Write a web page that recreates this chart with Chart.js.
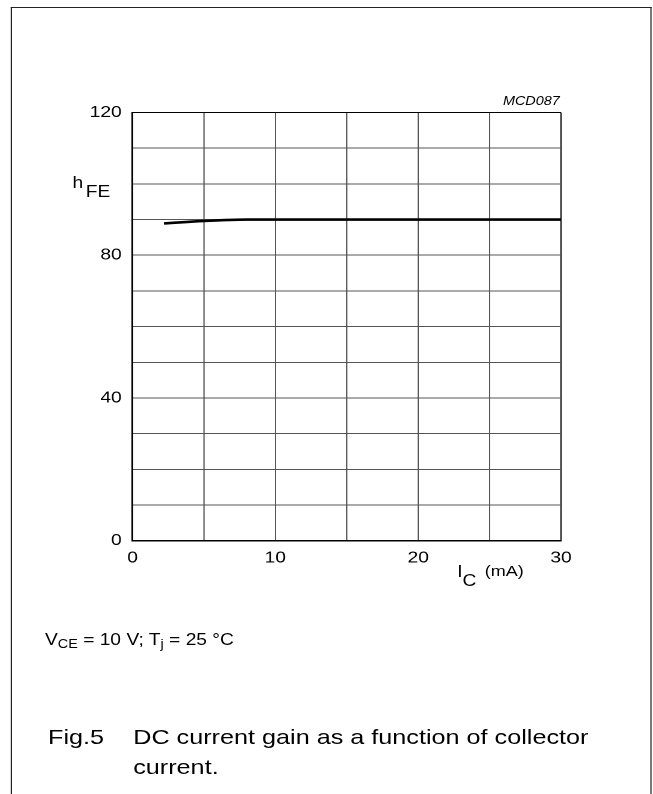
<!DOCTYPE html>
<html>
<head>
<meta charset="utf-8">
<script src="https://cdn.jsdelivr.net/npm/chart.js@4.4.1/dist/chart.umd.min.js"></script>
<style>
  html, body { margin: 0; padding: 0; background: #fff; }
  body { width: 653px; height: 794px; overflow: hidden; }
  #wrap { position: absolute; left: 0; top: 0; width: 544px; height: 794px;
          transform: scaleX(1.2); transform-origin: 0 0;
          font-family: "Liberation Sans", Arial, Helvetica, sans-serif; color: #000; }
  #frame { position: absolute; left: 9px; top: 7px; width: 532px; height: 800px;
           border-left: 1.5px solid #222; border-top: 1.5px solid #222; border-right: 1.5px solid #222; }
  canvas { position: absolute; left: 0; top: 0; }
  .t { position: absolute; white-space: nowrap; line-height: 1; }
  sub { font-size: 12px; vertical-align: -3px; line-height: 1; }
</style>
</head>
<body>
<div id="wrap">
  <div id="frame"></div>
  <canvas id="c" width="544" height="794"></canvas>
  <div class="t" style="right:77.5px; top:94.5px; font-size:12px; font-style:italic;">MCD087</div>
  <div class="t" style="left:60.5px; top:174.5px; font-size:16px;">h</div>
  <div class="t" style="left:71.5px; top:183.5px; font-size:16px;">FE</div>
  <div class="t" style="left:381px; top:563.5px; font-size:16px;">I</div>
  <div class="t" style="left:385.5px; top:572.5px; font-size:16px;">C</div>
  <div class="t" style="left:404px; top:562.5px; font-size:15px;">(mA)</div>
  <div class="t" style="left:37.5px; top:631.5px; font-size:16px;">V<sub>CE</sub> = 10 V; T<sub>j</sub> = 25 °C</div>
  <div class="t" style="left:40px; top:725.5px; font-size:21px;">Fig.5</div>
  <div class="t" style="left:111px; top:725.5px; font-size:21px;">DC current gain as a function of collector</div>
  <div class="t" style="left:111px; top:755.5px; font-size:21px;">current.</div>
</div>
<script>
// Data
const icValues = [2.2, 5, 8, 10, 20, 30];          // I_C (mA)
const hfeValues = [88.9, 89.6, 90, 90, 90, 90];     // h_FE
const xTickLabels = [0, 10, 20, 30];
const yTickLabels = [0, 40, 80, 120];

const points = icValues.map((x, i) => ({ x: x, y: hfeValues[i] }));

const chart = new Chart(document.getElementById('c'), {
  type: 'line',
  data: {
    datasets: [{
      data: points,
      borderColor: '#000',
      borderWidth: 2.6,
      pointRadius: 0,
      fill: false,
      cubicInterpolationMode: 'monotone'
    }]
  },
  options: {
    responsive: false,
    animation: false,
    devicePixelRatio: 2,
    layout: { padding: { left: 0, top: 112.5, right: 76.5, bottom: 213.3 } },
    plugins: { legend: { display: false }, tooltip: { enabled: false } },
    scales: {
      x: {
        type: 'linear', min: 0, max: 30,
        afterFit: s => { s.height = 40; },
        border: { display: true, color: '#000', width: 1.5 },
        grid: {
          drawTicks: false,
          lineWidth: 1,
          color: c => (c.tick && c.tick.value === 30) ? '#000' : '#555'
        },
        ticks: {
          stepSize: 5, padding: 8, maxRotation: 0, autoSkip: false,
          color: '#000',
          font: { family: '"Liberation Sans", Arial, sans-serif', size: 16 },
          callback: v => xTickLabels.includes(v) ? String(v) : ''
        }
      },
      y: {
        type: 'linear', min: 0, max: 120,
        afterFit: s => { s.width = 110.4; },
        border: { display: true, color: '#000', width: 1.5 },
        grid: {
          drawTicks: false,
          lineWidth: 1,
          color: c => (c.tick && c.tick.value === 120) ? '#000' : '#555'
        },
        ticks: {
          stepSize: 10, padding: 9, autoSkip: false,
          color: '#000',
          font: { family: '"Liberation Sans", Arial, sans-serif', size: 16 },
          callback: v => yTickLabels.includes(v) ? String(v) : ''
        }
      }
    }
  }
});
</script>
</body>
</html>
